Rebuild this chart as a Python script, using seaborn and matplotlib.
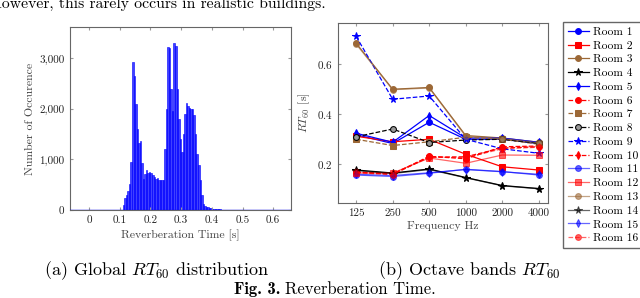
import numpy as np
import pandas as pd
import matplotlib
matplotlib.use("Agg")
import matplotlib.pyplot as plt
from matplotlib.ticker import FuncFormatter
import seaborn as sns

# histogram data (bin left edges, width 0.005 s)
bin_start = 0.100
bin_width = 0.005
hist_counts = [0, 0, 100, 240, 300, 380, 520, 950, 2930, 2650,
               2100, 1600, 1330, 1360, 930, 620, 720, 790, 730, 750,
               740, 700, 650, 620, 640, 600, 600, 590, 600, 1200,
               2000, 3230, 3200, 2400, 1950, 3300, 3250, 2400, 1800, 1400,
               1150, 1500, 1900, 2110, 2050, 2020, 2000, 2000, 1880, 1500,
               1100, 900, 600, 300, 120, 80, 60, 50, 40, 30,
               25, 20, 15, 12, 10, 10, 8, 8, 6, 6]

# octave band data
freqs = ["125", "250", "500", "1000", "2000", "4000"]
rooms = ["Room %d" % i for i in range(1, 17)]
rt60 = {
    "Room 1":  [0.318, 0.283, 0.368, 0.300, 0.300, 0.283],
    "Room 2":  [0.312, 0.290, 0.300, 0.240, 0.190, 0.177],
    "Room 3":  [0.684, 0.500, 0.507, 0.315, 0.305, 0.288],
    "Room 4":  [0.177, 0.165, 0.181, 0.147, 0.115, 0.103],
    "Room 5":  [0.324, 0.288, 0.395, 0.305, 0.305, 0.288],
    "Room 6":  [0.170, 0.160, 0.232, 0.222, 0.270, 0.273],
    "Room 7":  [0.300, 0.275, 0.290, 0.308, 0.300, 0.280],
    "Room 8":  [0.310, 0.341, 0.287, 0.297, 0.300, 0.284],
    "Room 9":  [0.711, 0.460, 0.473, 0.300, 0.262, 0.244],
    "Room 10": [0.168, 0.162, 0.228, 0.230, 0.265, 0.270],
    "Room 11": [0.157, 0.151, 0.164, 0.180, 0.171, 0.157],
    "Room 12": [0.165, 0.165, 0.225, 0.204, 0.237, 0.236],
    "Room 13": [0.680, 0.498, 0.505, 0.312, 0.303, 0.286],
    "Room 14": [0.175, 0.163, 0.179, 0.146, 0.114, 0.102],
    "Room 15": [0.160, 0.155, 0.166, 0.179, 0.170, 0.160],
    "Room 16": [0.166, 0.158, 0.230, 0.226, 0.262, 0.268],
}

brown = "#9c6836"
styles = {
    "Room 1":  ("blue", "-", "o", 1.0),
    "Room 2":  ("red", "-", "s", 1.0),
    "Room 3":  (brown, "-", "o", 1.0),
    "Room 4":  ("black", "-", "*", 1.0),
    "Room 5":  ("blue", "-", "d", 1.0),
    "Room 6":  ("red", "--", "o", 1.0),
    "Room 7":  (brown, "--", "s", 1.0),
    "Room 8":  ("black", "--", "o", 1.0),
    "Room 9":  ("blue", "--", "*", 1.0),
    "Room 10": ("red", "--", "d", 1.0),
    "Room 11": ("blue", "-", "o", 0.6),
    "Room 12": ("red", "-", "s", 0.6),
    "Room 13": (brown, "-", "o", 0.6),
    "Room 14": ("black", "-", "*", 0.6),
    "Room 15": ("blue", "-", "d", 0.6),
    "Room 16": ("red", "--", "o", 0.6),
}

plt.rcParams["font.family"] = ["cmr10", "DejaVu Serif"]
plt.rcParams["mathtext.fontset"] = "cm"
plt.rcParams["axes.formatter.use_mathtext"] = True
plt.rcParams["axes.unicode_minus"] = False

fig = plt.figure(figsize=(6.4, 2.98), dpi=100)
ax1 = fig.add_axes([0.1094, 0.2953, 0.3453, 0.614])
ax2 = fig.add_axes([0.528, 0.3178, 0.328, 0.606])

# (a) histogram
edges = bin_start + bin_width * np.arange(len(hist_counts) + 1)
hist_df = pd.DataFrame({"rt": edges[:-1] + bin_width / 2, "n": hist_counts})
sns.histplot(data=hist_df, x="rt", weights="n", bins=list(edges), ax=ax1,
             color="blue", alpha=0.75, edgecolor="blue", linewidth=0.4)
ax1.axhline(0, color="blue", lw=1.0, zorder=3)
ax1.set_xlim(-0.062, 0.658)
ax1.set_ylim(0, 3620)
ax1.set_xticks([0, 0.1, 0.2, 0.3, 0.4, 0.5, 0.6])
ax1.set_xticklabels(["0", "0.1", "0.2", "0.3", "0.4", "0.5", "0.6"])
ax1.set_yticks([0, 1000, 2000, 3000])
ax1.yaxis.set_major_formatter(FuncFormatter(lambda v, p: f"{v:,.0f}"))
ax1.set_xlabel("Reverberation Time [s]", fontsize=8.5, color="#444444", labelpad=3)
ax1.set_ylabel("Number of Occurence", fontsize=8.5, color="#444444", labelpad=3)

# (b) octave bands
pos = list(range(len(freqs)))
for r in rooms:
    c, ls, m, a = styles[r]
    mfc = "#999999" if r == "Room 8" else c
    ms = 5.5 if m == "*" else 4.2
    sns.lineplot(x=pos, y=rt60[r], ax=ax2, color=c, linestyle=ls, marker=m,
                 markersize=ms, markerfacecolor=mfc, markeredgecolor=c,
                 linewidth=0.9, alpha=a, label=r)
ax2.set_xlim(-0.5, 5.25)
ax2.set_ylim(0.044, 0.766)
ax2.set_xticks(pos)
ax2.set_xticklabels(freqs)
ax2.set_yticks([0.2, 0.4, 0.6])
ax2.set_xlabel("Frequency Hz", fontsize=8.5, color="#444444", labelpad=2)
ax2.set_ylabel(r"$RT_{60}$ [s]", fontsize=8.5, color="#444444", labelpad=3)

handles, labels = ax2.get_legend_handles_labels()
ax2.get_legend().remove()
fig.legend(handles, labels, loc="upper left", bbox_to_anchor=(563 / 640, 1 - 22 / 298),
           fontsize=8.3, frameon=True, fancybox=False, framealpha=1,
           edgecolor="#666666", labelspacing=0.32, handlelength=1.8,
           handletextpad=0.35, borderpad=0.42, borderaxespad=0)

for ax in (ax1, ax2):
    for s in ax.spines.values():
        s.set_color("#666666")
        s.set_linewidth(0.8)
    ax.tick_params(direction="in", top=True, right=True, length=2.5,
                   color="#999999", labelsize=8, labelcolor="#222222", pad=4)
    ax.grid(False)

# captions
fig.text(-10 / 640, 1 - 8 / 298, "However, this rarely occurs in realistic buildings.",
         fontsize=11.3, ha="left", va="baseline")
fig.text(157 / 640, 1 - 275 / 298, r"(a) Global $RT_{60}$ distribution",
         fontsize=13, ha="center", va="baseline")
fig.text(469 / 640, 1 - 275 / 298, r"(b) Octave bands $RT_{60}$",
         fontsize=13, ha="center", va="baseline")
fig.text(280 / 640, 1 - 294 / 298, "Fig. 3.", family="cmb10",
         fontsize=12, ha="right", va="baseline")
fig.text(285 / 640, 1 - 294 / 298, "Reverberation Time.",
         fontsize=12, ha="left", va="baseline")

fig.savefig("out.png", dpi=100)
